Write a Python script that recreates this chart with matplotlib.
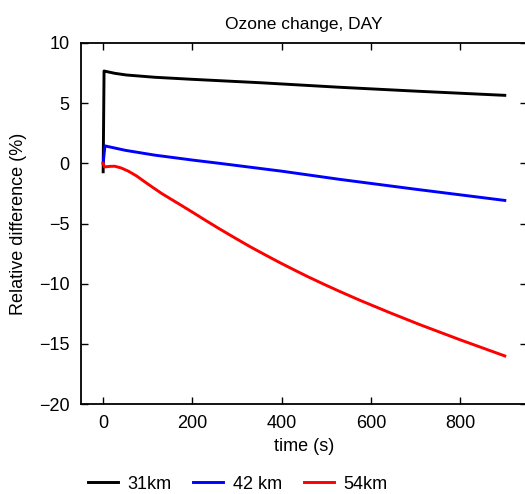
import matplotlib
matplotlib.use("Agg")
import matplotlib.pyplot as plt

plt.rcParams['font.family'] = ['Liberation Sans', 'DejaVu Sans']

# relative ozone difference (%) vs time (s) at three altitudes
t_31 = [0, 2, 26, 52, 116, 200, 351, 530, 700, 900]
d_31 = [-0.7, 7.67, 7.48, 7.34, 7.15, 6.98, 6.70, 6.32, 6.0, 5.65]

t_42 = [0, 4, 50, 116, 205, 261, 400, 530, 700, 900]
d_42 = [0.0, 1.45, 1.08, 0.68, 0.25, 0.0, -0.65, -1.33, -2.15, -3.08]

t_54 = [0, 3, 15, 26, 40, 56, 75, 93, 112, 131, 150, 168, 202, 230, 261, 295, 330, 365,
        396, 430, 460, 495, 530, 575, 640, 709, 800, 900]
d_54 = [0.0, -0.3, -0.25, -0.24, -0.38, -0.64, -1.05, -1.53, -2.02, -2.5, -2.93, -3.33,
        -4.1, -4.75, -5.45, -6.19, -6.94, -7.64, -8.25, -8.89, -9.44, -10.05, -10.64,
        -11.37, -12.37, -13.39, -14.66, -16.0]

labels = ['31km', '42 km', '54km']

fig = plt.figure(figsize=(5.25, 4.94), dpi=100)
ax = fig.add_axes([0.154, 0.182, 0.85, 0.731])

ax.plot(t_31, d_31, color='black', lw=2.1, label=labels[0])
ax.plot(t_42, d_42, color='blue', lw=2.1, label=labels[1])
ax.plot(t_54, d_54, color='red', lw=2.1, label=labels[2])

ax.set_xlim(-50, 950)
ax.set_ylim(-20, 10)
ax.set_xticks([0, 200, 400, 600, 800])
ax.set_yticks([-20, -15, -10, -5, 0, 5, 10])
ax.set_yticklabels(['\u221220', '\u221215', '\u221210', '\u22125', '0', '5', '10'])
ax.tick_params(direction='in', length=5, width=1, top=True, right=True,
               labelsize=13, pad=8)
for s in ax.spines.values():
    s.set_linewidth(1.3)

ax.set_title('Ozone change, DAY', fontsize=12.5, pad=10)
ax.set_xlabel('time (s)', fontsize=13, labelpad=4)
ax.set_ylabel('Relative difference (%)', fontsize=13, labelpad=9)

fig.legend(loc='center', bbox_to_anchor=(0.453, 0.02), ncol=3, frameon=False,
           fontsize=13, handlelength=1.65, columnspacing=1.2, handletextpad=0.55)

fig.savefig('out.png', dpi=100)
